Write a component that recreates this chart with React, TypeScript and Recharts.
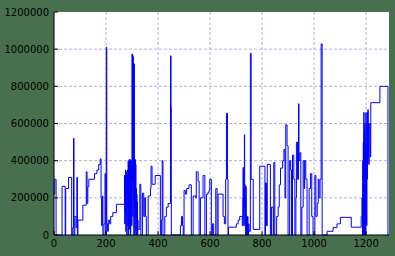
import { CartesianGrid, Line, LineChart, ReferenceLine, XAxis, YAxis } from 'recharts';

// change points of the stepped series (x index, value)
const STEP_X = [
  0, 3, 8, 31, 43, 45, 56, 68, 72, 75, 77, 80, 85, 88, 90, 92, 111, 124, 127, 130, 134, 156, 165, 172, 178,
  181, 183, 186, 188, 192, 196, 199, 201, 203, 206, 209, 214, 218, 226, 240,
  271, 272, 273, 274, 275, 276, 277, 278, 279, 280, 281, 282, 283, 284, 285, 286, 287, 288, 289, 290, 291,
  292, 293, 294, 295, 296, 297, 298, 300, 301, 302, 303, 304, 305, 306, 307, 308, 309, 310, 311, 312, 313,
  314, 315, 316, 317, 318, 319, 320, 321, 322, 323,
  330, 334, 340, 345, 349, 352, 355, 362, 371, 373, 377, 389, 409, 413, 416, 419, 426, 432, 439, 448, 450,
  451, 486, 490, 494, 497, 500, 505, 510, 519, 528, 535, 545, 547, 554, 558, 563, 573, 580, 586, 592, 596,
  599, 605, 609, 614, 622, 627, 631, 650, 655, 660, 663, 667, 669, 671, 701, 708, 714, 724, 726, 727, 728,
  729, 730, 731, 732, 733, 734, 735, 736, 737, 738, 739, 740, 744, 746, 748, 750, 755, 758, 766, 791, 811,
  813, 817, 820, 832, 836, 843, 845, 849, 856, 862, 866, 871, 879, 884, 888, 891, 896, 900, 906, 910, 913,
  917, 922, 926, 930, 932, 936, 940, 942, 945, 949, 953, 958, 962, 964, 968, 973, 981, 986, 991, 996, 1003,
  1007, 1012, 1016, 1019, 1023, 1027, 1031, 1050, 1073, 1088, 1101, 1143, 1181, 1184, 1186, 1187, 1188,
  1189, 1190, 1191, 1192, 1193, 1194, 1195, 1196, 1197, 1198, 1199, 1200, 1201, 1202, 1203, 1204, 1205,
  1206, 1207, 1208, 1209, 1210, 1212, 1214, 1216, 1218, 1253, 1284, 1288,
];
const STEP_Y = [
  220000, 300000, 0, 262000, 0, 250000, 310000, 0, 40000, 520000, 0, 100000, 40000, 310000, 0, 80000,
  160000, 340000, 170000, 260000, 300000, 330000, 350000, 380000, 410000, 200000, 50000, 210000, 0, 60000,
  330000, 0, 1010000, 60000, 20000, 80000, 60000, 100000, 120000, 165000,
  322000, 60000, 300000, 120000, 350000, 20000, 280000, 100000, 340000, 0, 300000, 150000, 350000, 50000,
  400000, 0, 380000, 200000, 406000, 30000, 400000, 150000, 406000, 0, 350000, 100000, 400000, 50000,
  975000, 300000, 970000, 100000, 960000, 200000, 925000, 0, 920000, 150000, 400000, 0, 406000, 100000,
  380000, 20000, 250000, 0, 220000, 60000, 180000, 0, 80000, 30000,
  273000, 0, 225000, 100000, 200000, 100000, 0, 210000, 250000, 370000, 273000, 320000, 0, 80000, 400000,
  0, 100000, 150000, 170000, 964000, 690000, 0, 50000, 100000, 50000, 0, 240000, 220000, 250000, 270000,
  0, 210000, 200000, 340000, 290000, 0, 200000, 320000, 0, 220000, 230000, 240000, 300000, 0, 60000, 0,
  250000, 0, 220000, 100000, 60000, 300000, 655000, 300000, 0, 42000, 60000, 80000, 100000, 50000, 200000,
  363000, 100000, 250000, 50000, 300000, 540000, 150000, 270000, 50000, 200000, 0, 260000, 100000, 0,
  100000, 0, 60000, 20000, 978000, 300000, 30000, 370000, 0, 280000, 50000, 380000, 0, 150000, 0, 390000, 0,
  100000, 150000, 270000, 360000, 400000, 460000, 200000, 593000, 480000, 0, 400000, 350000, 0, 430000,
  300000, 0, 200000, 500000, 300000, 706000, 400000, 443000, 0, 150000, 400000, 250000, 400000, 300000, 0,
  250000, 330000, 100000, 0, 320000, 100000, 170000, 300000, 200000, 300000, 1028000, 0, 20000, 40000,
  60000, 95000, 42000, 100000, 200000, 0, 400000, 50000, 500000, 0, 660000, 100000, 550000, 0, 600000,
  150000, 500000, 0, 658000, 200000, 450000, 50000, 600000, 300000, 660000, 400000, 675000, 420000,
  600000, 380000, 500000, 600000, 420000, 712000, 800000, 0, 0,
];

const X_TICKS = [0, 200, 400, 600, 800, 1000, 1200];
const Y_TICKS = [0, 200000, 400000, 600000, 800000, 1000000, 1200000];
const X_GRID = [200, 400, 600, 800, 1000, 1200];
const Y_GRID = [200000, 400000, 600000, 800000, 1000000];

const data = STEP_X.map((x, i) => ({ x, y: STEP_Y[i] }));

const FONT = { fontSize: 10, fill: '#000', fontFamily: 'DejaVu Sans' };
const GRID = { stroke: '#b0b0e4', strokeDasharray: '3 2', strokeWidth: 1 };
const NoTick = () => <g />;

export default function App() {
  return (
    <div style={{ position: 'fixed', left: 0, top: 0, width: 395, height: 256, background: '#48704e' }}>
      <LineChart width={395} height={256} data={data} margin={{ top: 12, right: 6, bottom: 0, left: 0 }}>
        <CartesianGrid xAxisId="b" yAxisId="l" fill="#ffffff" horizontal={false} vertical={false} />
        {X_GRID.map((v) => (
          <ReferenceLine key={'x' + v} xAxisId="b" yAxisId="l" x={v} {...GRID} />
        ))}
        {Y_GRID.map((v) => (
          <ReferenceLine key={'y' + v} xAxisId="b" yAxisId="l" y={v} {...GRID} />
        ))}
        <XAxis
          xAxisId="b"
          type="number"
          dataKey="x"
          domain={[0, 1288]}
          ticks={X_TICKS}
          allowDataOverflow
          height={21}
          tickSize={-4}
          tickMargin={9}
          tick={FONT}
          stroke="#000"
        />
        <XAxis
          xAxisId="t"
          orientation="top"
          type="number"
          dataKey="x"
          domain={[0, 1288]}
          ticks={X_TICKS}
          allowDataOverflow
          height={0}
          tickSize={-4}
          tick={NoTick}
          stroke="#000"
        />
        <YAxis
          yAxisId="l"
          type="number"
          domain={[0, 1200000]}
          ticks={Y_TICKS}
          width={54}
          tickSize={-4}
          tickMargin={9}
          tick={FONT}
          stroke="#000"
        />
        <YAxis
          yAxisId="r"
          orientation="right"
          type="number"
          domain={[0, 1200000]}
          ticks={Y_TICKS}
          width={0}
          tickSize={-4}
          tick={NoTick}
          stroke="#000"
        />
        <Line
          xAxisId="b"
          yAxisId="l"
          type="stepAfter"
          dataKey="y"
          stroke="#0000ff"
          strokeWidth={1}
          dot={false}
          isAnimationActive={false}
        />
      </LineChart>
    </div>
  );
}
